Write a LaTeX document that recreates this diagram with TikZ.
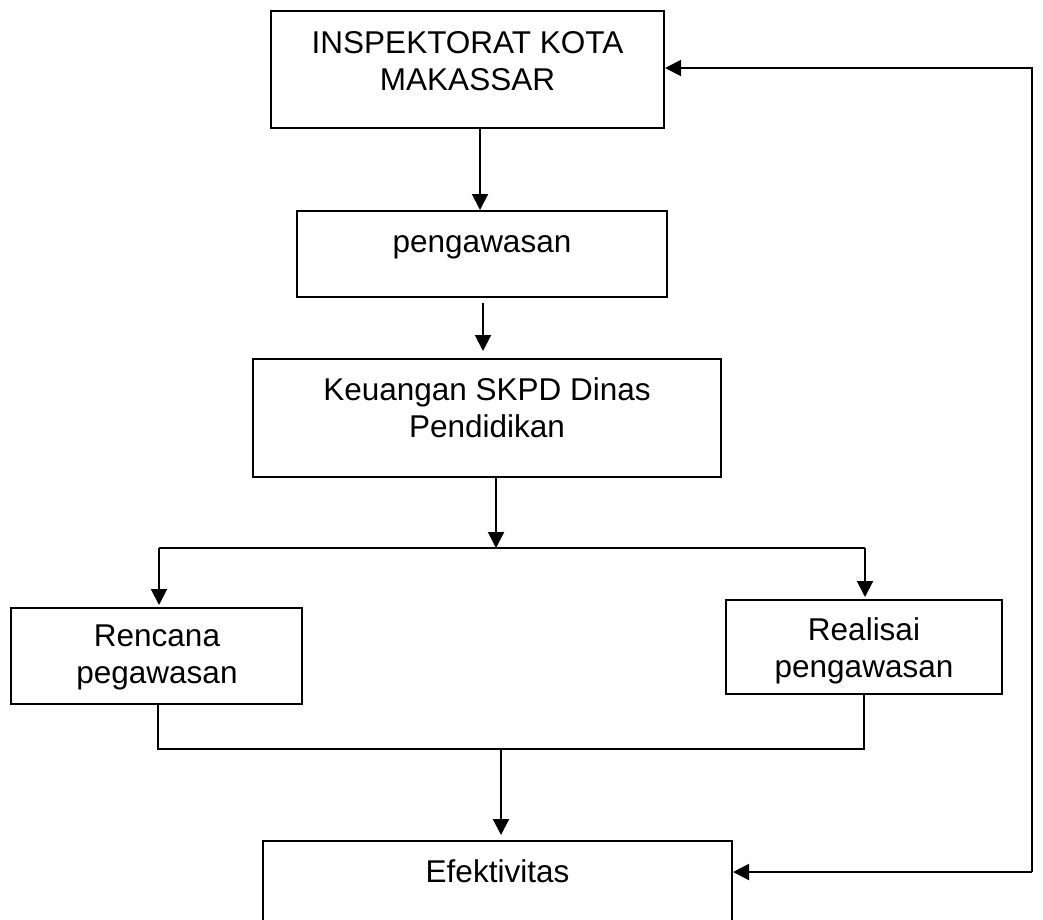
\documentclass[tikz,border=0pt]{standalone}
\usepackage{fontspec}
\setmainfont{Liberation Sans}
\usetikzlibrary{arrows.meta}
\tikzset{
  box/.style={draw, line width=2pt, inner sep=0pt, rectangle},
  txt/.style={font=\fontsize{31.5}{37}\selectfont, align=center, inner sep=0pt, anchor=base},
  ln/.style={line width=2pt},
  arr/.style={line width=2pt, -{Triangle[length=16pt,width=16pt]}}
}
\begin{document}
\begin{tikzpicture}[x=1pt,y=-1pt]
\useasboundingbox (0,0) rectangle (1043,919);
\clip (0,0) rectangle (1043,919);
% boxes
\node[box, minimum width=393pt, minimum height=117pt] (b1) at (467.5,69.5) {};
\node[box, minimum width=370pt, minimum height=86pt] (b2) at (482,254) {};
\node[box, minimum width=468pt, minimum height=118pt] (b3) at (487,418) {};
\node[box, minimum width=291pt, minimum height=96pt] (b4) at (156.5,656) {};
\node[box, minimum width=276pt, minimum height=94pt] (b5) at (864,647) {};
\node[box, minimum width=469pt, minimum height=140pt] (b6) at (497.5,911) {};
% texts (base = baseline of last line)
\node[txt] (t1) at (467.5,90) {INSPEKTORAT KOTA\\MAKASSAR};
\node[txt] (t2) at (482,252) {pengawasan};
\node[txt] (t3) at (487,437) {Keuangan SKPD Dinas\\Pendidikan};
\node[txt] (t4) at (157,683) {Rencana\\pegawasan};
\node[txt] (t5) at (864,677) {Realisai\\pengawasan};
\node[txt] (t6) at (497.5,882) {Efektivitas};
% coordinates
\coordinate (sp) at (496,548);
\coordinate (sl) at (159,548);
\coordinate (sr) at (865,548);
\coordinate (ml) at (158,749);
\coordinate (mr) at (864,749);
\coordinate (mm) at (501,749);
\coordinate (fr1) at (1032,68);
\coordinate (fr2) at (1032,872);
% connectors
\draw[arr] ([xshift=12.5pt]b1.south) -- ([xshift=-2pt]b2.north);
\draw[arr] ([xshift=1pt,yshift=-5pt]b2.south) -- ([xshift=-4pt,yshift=7pt]b3.north);
\draw[arr] (sp |- b3.south) -- (sp);
\draw[ln] (sl) -- (sr);
\draw[arr] (sl) -- ([yshift=2pt]sl |- b4.north);
\draw[arr] (sr) -- ([yshift=2pt]sr |- b5.north);
\draw[ln] (ml |- b4.south) -- (ml) -- (mr) -- (mr |- b5.south);
\draw[arr] (mm) -- ([yshift=5pt]mm |- b6.north);
\draw[arr] (fr2) -- (fr2 -| b6.east);
\draw[arr] (fr2) -- (fr1) -- (fr1 -| b1.east);
\end{tikzpicture}
\end{document}
